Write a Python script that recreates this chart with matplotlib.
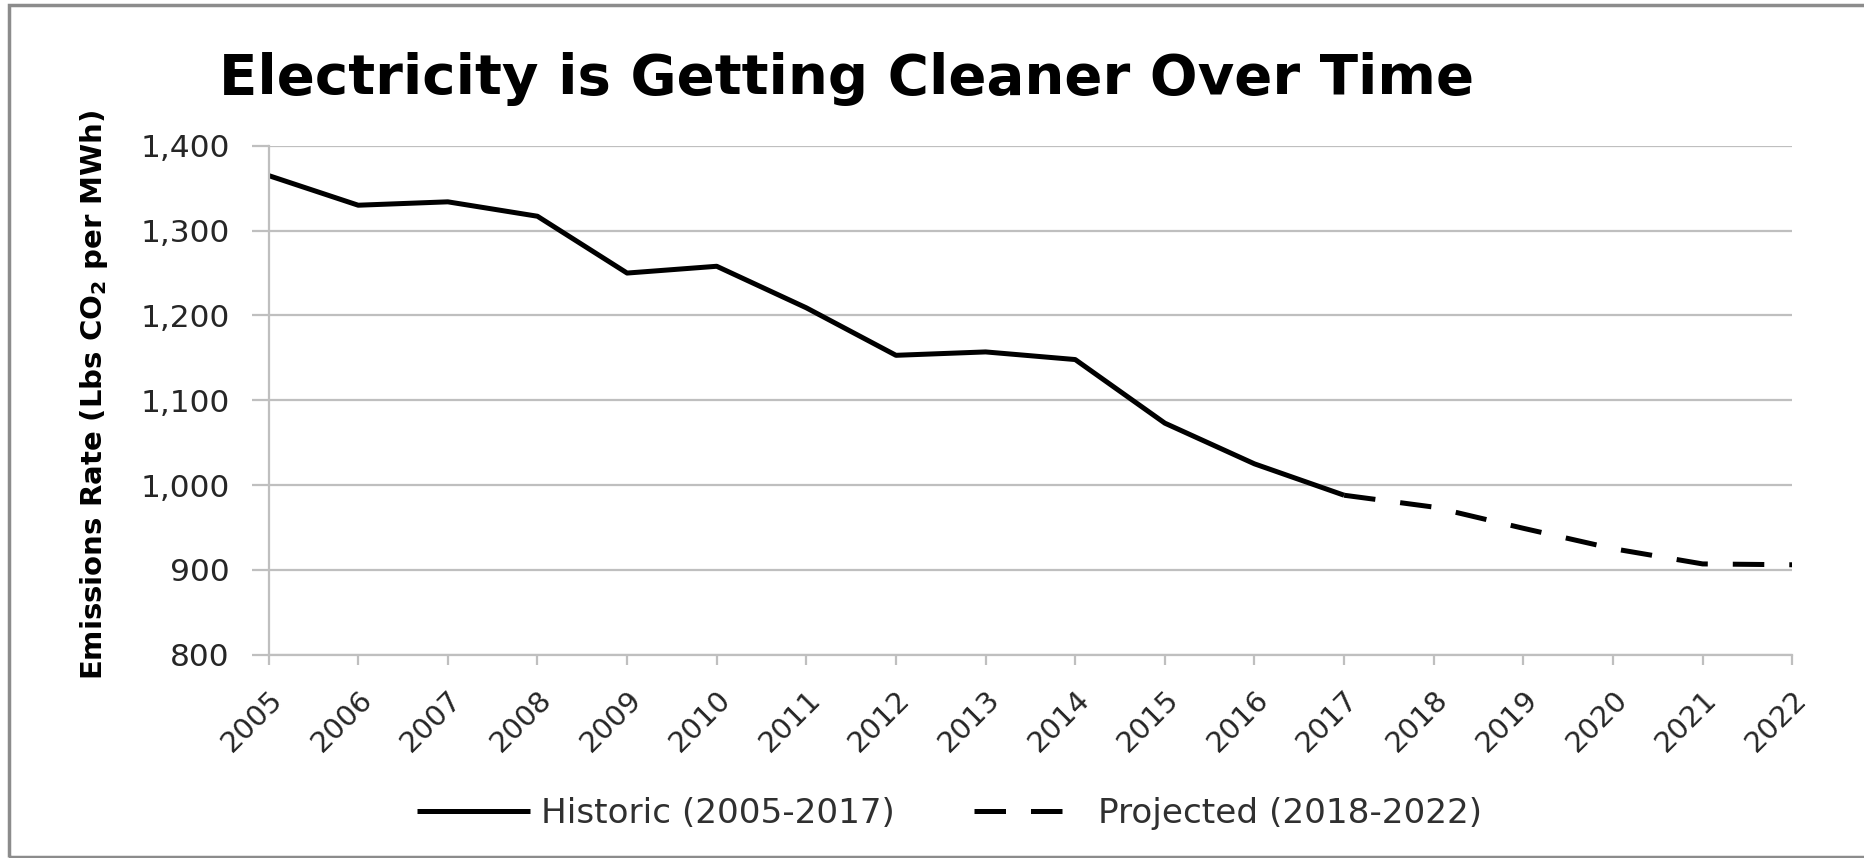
import numpy as np
import matplotlib.pyplot as plt
from matplotlib.patches import Rectangle

plt.rcParams['font.family'] = ['DejaVu Sans']

# data
hist_years = [2005, 2006, 2007, 2008, 2009, 2010, 2011, 2012, 2013, 2014, 2015, 2016, 2017]
hist_vals = [1365, 1330, 1334, 1317, 1250, 1258, 1209, 1153, 1157, 1148, 1073, 1025, 988]
proj_years = [2017, 2018, 2019, 2020, 2021, 2022]
proj_vals = [988, 974, 949, 925, 907, 906]
year_labels = [str(y) for y in range(2005, 2023)]
y_ticks = [800, 900, 1000, 1100, 1200, 1300, 1400]

grid_col = '#BFBFBF'
text_col = '#262626'

fig = plt.figure(figsize=(18.65, 8.58), dpi=100)
ax = fig.add_axes([0.144, 0.237, 0.817, 0.593])

ax.plot(hist_years, hist_vals, color='black', lw=3.6, solid_capstyle='butt',
        label='Historic (2005-2017)')
ax.plot(proj_years, proj_vals, color='black', lw=3.6, dashes=[6.3, 5.0],
        dash_capstyle='butt', label='Projected (2018-2022)')

ax.set_xlim(2005, 2022)
ax.set_ylim(800, 1400)
ax.set_xticks(range(2005, 2023))
ax.set_xticklabels(year_labels, rotation=45, ha='right', rotation_mode='anchor',
                   fontsize=21, color=text_col)
ax.set_yticks(y_ticks)
ax.set_yticklabels([f'{v:,}' for v in y_ticks], fontsize=22.5, color=text_col)
ax.grid(axis='y', color=grid_col, lw=1.6)
ax.set_axisbelow(True)
for s in ['top', 'right']:
    ax.spines[s].set_visible(False)
for s in ['left', 'bottom']:
    ax.spines[s].set_color(grid_col)
    ax.spines[s].set_linewidth(1.6)
ax.tick_params(axis='x', length=7, width=1.6, color=grid_col, pad=15)
ax.tick_params(axis='y', length=12, width=1.6, color=grid_col, pad=16)

ax.set_ylabel('Emissions Rate (Lbs CO$_\\mathbf{2}$ per MWh)', fontsize=21,
              fontweight='bold', color='black')
ax.yaxis.set_label_coords(-0.104, 0.51)

fig.text(0.4537, 0.908, 'Electricity is Getting Cleaner Over Time', fontsize=40.5,
         fontweight='bold', ha='center', va='center')

leg = fig.legend(loc='center', bbox_to_anchor=(0.509, 0.052), ncol=2, frameon=False,
                 fontsize=24.7, handlelength=3.3, columnspacing=2.3, handletextpad=0.32)
for t in leg.get_texts():
    t.set_color('#303030')

# outer chart frame
fig.patches.append(Rectangle((0.005, 0.001), 1.2, 0.993, transform=fig.transFigure,
                             fill=False, edgecolor='#8C8C8C', lw=2.5))

fig.savefig('out.png', dpi=100)
